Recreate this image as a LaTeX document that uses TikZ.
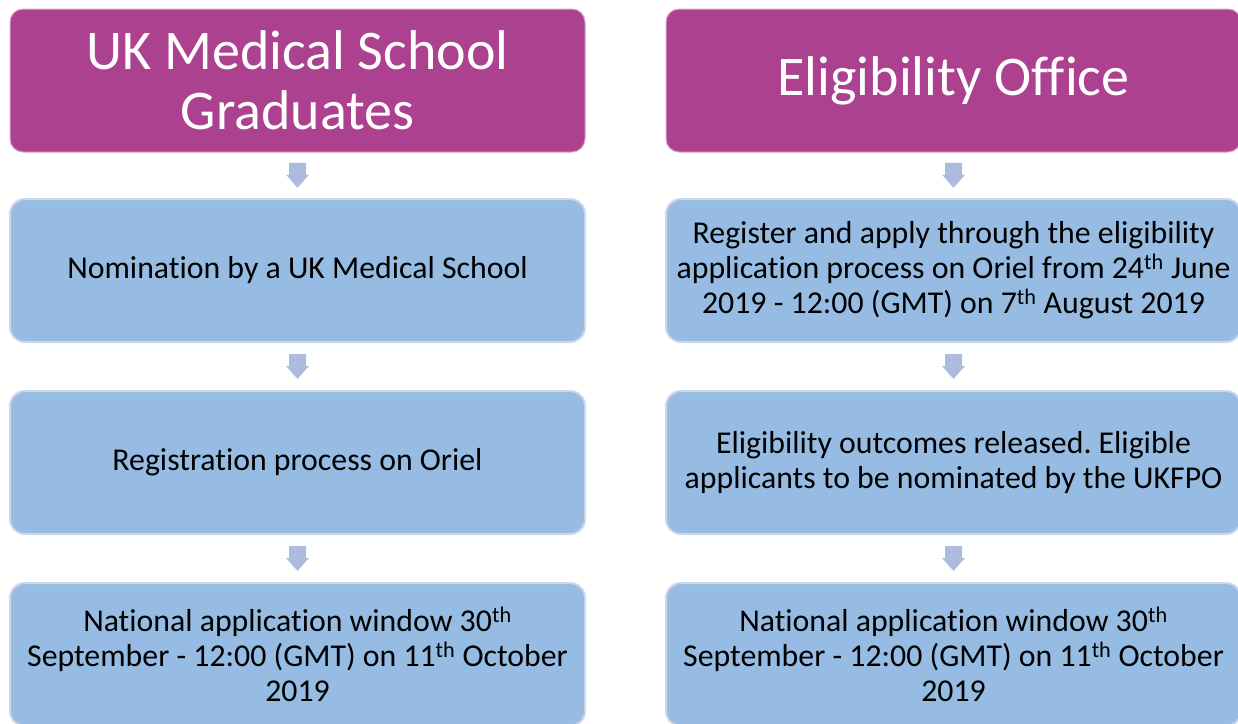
\documentclass[tikz,border=0pt]{standalone}
\usepackage{fontspec}
\setmainfont{Carlito}[Ligatures=NoCommon]
\frenchspacing
\usetikzlibrary{calc}
\definecolor{hdr}{HTML}{AB418F}
\definecolor{hdrline}{HTML}{D9A6CC}
\definecolor{boxc}{HTML}{96BCE3}
\definecolor{boxline}{HTML}{CAD7EC}
\definecolor{arrc}{HTML}{ADBBE0}
\tikzset{
  header/.style={fill=hdr, draw=hdrline, line width=1pt, rounded corners=13pt,
    minimum width=575pt, minimum height=143pt, text=white, align=center,
    font=\fontsize{56}{60}\selectfont, inner sep=0pt},
  stepbox/.style={fill=boxc, draw=boxline, line width=2pt, rounded corners=15pt,
    minimum width=575pt, minimum height=143pt, text=black, align=center,
    font=\fontsize{31.8}{35}\selectfont, inner sep=0pt},
  blockarr/.style={fill=arrc}
}
\begin{document}
\begin{tikzpicture}[x=1pt,y=-1pt]
\useasboundingbox (0,0) rectangle (1238,723);
\clip (0,0) rectangle (1238,723);
% left column
\node[header] (h1) at (297.5,80.5) {UK Medical School\\Graduates};
\node[stepbox] (l1) at (297.5,270.5) {Nomination by a UK Medical School};
\node[stepbox] (l2) at (297.5,462.5) {Registration process on Oriel};
\node[stepbox] (l3) at (297.5,654.5) {National application window 30\textsuperscript{th}\\September - 12:00 (GMT) on 11\textsuperscript{th} October\\2019};
% right column
\node[header] (h2) at (953.5,80.5) {Eligibility Office};
\node[stepbox] (r1) at (953.5,270.5) {Register and apply through the eligibility\\application process on Oriel from 24\textsuperscript{th} June\\2019 - 12:00 (GMT) on 7\textsuperscript{th} August 2019};
\node[stepbox] (r2) at (953.5,462.5) {Eligibility outcomes released. Eligible\\applicants to be nominated by the UKFPO};
\node[stepbox] (r3) at (953.5,654.5) {National application window 30\textsuperscript{th}\\September - 12:00 (GMT) on 11\textsuperscript{th} October\\2019};
% block arrows
\foreach \a/\b in {h1/l1,l1/l2,l2/l3,h2/r1,r1/r2,r2/r3}{
  \coordinate (m-\a) at ($(\a.south)!0.5!(\b.north)$);
  \fill[blockarr] ($(m-\a)+(-8.5,-12.5)$) -- ($(m-\a)+(8.5,-12.5)$) -- ($(m-\a)+(8.5,-0.5)$)
    -- ($(m-\a)+(11.5,-0.5)$) -- ($(m-\a)+(0,12.5)$) -- ($(m-\a)+(-11.5,-0.5)$)
    -- ($(m-\a)+(-8.5,-0.5)$) -- cycle;
}
\end{tikzpicture}
\end{document}
